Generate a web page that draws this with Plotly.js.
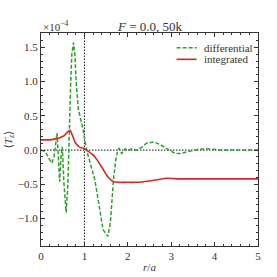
<!DOCTYPE html>
<html><head><meta charset="utf-8">
<script src="https://cdn.plot.ly/plotly-3.0.1.min.js"></script>
<style>body{margin:0;padding:0;background:#fff}#c{width:277px;height:277px}</style>
</head><body><div id="c"></div>
<script>
const diffX = [0,0.1,0.18,0.25,0.3,0.34,0.37,0.4,0.43,0.46,0.49,0.53,0.58,0.62,0.65,0.68,0.71,0.75,0.78,0.81,0.86,0.92,0.97,1.05,1.24,1.43,1.54,1.6,1.67,1.72,1.77,1.8,1.86,1.94,2.0,2.09,2.2,2.32,2.43,2.6,2.75,2.95,3.1,3.2,3.4,3.6,3.8,4.0,4.2,4.6,5.0];
const diffY = [0,-0.02,-0.12,-0.19,-0.1,0.15,0.25,-0.1,-0.46,-0.1,0.05,-0.5,-0.91,-0.5,0.3,0.9,1.4,1.57,1.4,1.0,0.6,0.45,0.3,0.0,-0.43,-1.16,-1.26,-1.05,-0.43,-0.15,0.0,0.03,-0.05,0.02,-0.01,0.02,0.0,0.04,0.1,0.12,0.08,0.0,-0.05,-0.05,-0.02,0.01,0.02,0.01,0.0,0.0,0.0];
const intX = [0,0.2,0.3,0.43,0.55,0.62,0.67,0.72,0.8,0.9,0.97,1.05,1.2,1.3,1.43,1.55,1.67,1.75,2.0,2.2,2.5,2.7,2.9,3.2,3.6,4.0,4.5,5.0];
const intY = [0.15,0.15,0.16,0.18,0.22,0.27,0.29,0.22,0.1,0.04,0.03,0.0,-0.07,-0.15,-0.28,-0.4,-0.46,-0.47,-0.47,-0.47,-0.45,-0.43,-0.41,-0.42,-0.42,-0.42,-0.42,-0.42];
const vLineX = [1,1], vLineY = [-1.4,1.71];
const hLineX = [0,5], hLineY = [0,0];
const seriesNames = ['differential','integrated'];
const seriesColors = ['#2ca02c','#d62728'];

const font = 'Liberation Serif, DejaVu Serif, serif';
const greenDash = '4px,2px';
const traces = [
  {x:vLineX,y:vLineY,mode:'lines',line:{color:'#111',width:1,dash:'1.5px,1.5px'},showlegend:false,hoverinfo:'skip'},
  {x:hLineX,y:hLineY,mode:'lines',line:{color:'#111',width:1,dash:'1.5px,1.5px'},showlegend:false,hoverinfo:'skip'},
  {x:diffX,y:diffY,mode:'lines',name:seriesNames[0],showlegend:false,line:{color:seriesColors[0],width:1.5,dash:greenDash}},
  {x:intX,y:intY,mode:'lines',name:seriesNames[1],showlegend:false,line:{color:seriesColors[1],width:1.6,shape:'spline',smoothing:0.6}}
];
const axBase = {showgrid:false,zeroline:false,showline:true,linecolor:'#333',linewidth:1,mirror:'allticks',ticks:'inside',ticklen:4,tickcolor:'#333',tickfont:{family:font,size:11,color:'#333'}};
const legY = [0.931,0.8765];
const shapes = seriesNames.map((n,i)=>({type:'line',xref:'paper',yref:'paper',x0:0.625,x1:0.7175,y0:legY[i],y1:legY[i],line:{color:seriesColors[i],width:1.6,dash:i===0?greenDash:'solid'}}));
const legAnn = seriesNames.map((n,i)=>({text:n,xref:'paper',yref:'paper',x:0.74,y:legY[i],xanchor:'left',yanchor:'middle',showarrow:false,font:{family:font,size:11,color:'#333'}}));
const layout = {
  width:277,height:277,margin:{l:41,r:19,t:33,b:31},
  paper_bgcolor:'#fff',plot_bgcolor:'#fff',
  font:{family:font,color:'#333'},
  showlegend:false,
  xaxis:Object.assign({},axBase,{range:[0,5],dtick:1,tick0:0,minor:{dtick:0.2,ticks:'inside',ticklen:2,tickcolor:'#333'},title:{text:'<i>r</i>/<i>a</i>',font:{family:font,size:11,color:'#333'},standoff:2}}),
  yaxis:Object.assign({},axBase,{range:[-1.4,1.71],dtick:0.5,tick0:0,tickformat:'.1f',minor:{dtick:0.1,ticks:'inside',ticklen:2,tickcolor:'#333'}}),
  shapes:shapes,
  annotations:[
    {text:'<i>F</i> = 0.0, 50k',xref:'paper',yref:'paper',x:0.5,y:1,xanchor:'center',yanchor:'middle',yshift:7,showarrow:false,font:{family:font,size:13,color:'#333'}},
    {text:'×10<sup>−4</sup>',xref:'paper',yref:'paper',x:0,y:1,xanchor:'left',yanchor:'middle',yshift:7,showarrow:false,font:{family:font,size:11,color:'#333'}},
    {text:'⟨<i>T<sub>z</sub></i>⟩',xref:'paper',yref:'paper',x:0,y:0.5,xanchor:'center',yanchor:'middle',xshift:-33,textangle:-90,showarrow:false,font:{family:font,size:11,color:'#333'}}
  ].concat(legAnn)
};
Plotly.newPlot('c',traces,layout,{staticPlot:true});
</script></body></html>
